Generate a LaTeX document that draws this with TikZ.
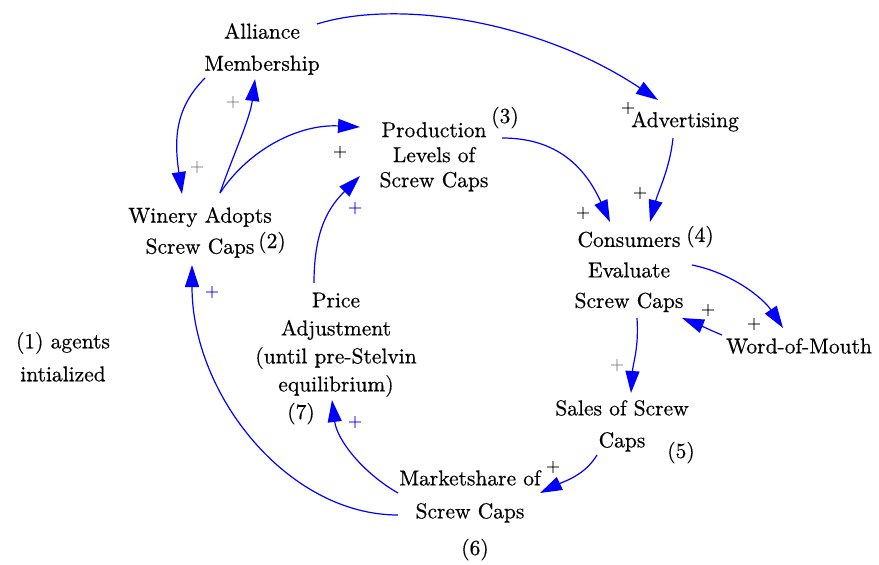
\documentclass[tikz,border=0pt]{standalone}
\usepackage{fontspec}
\setmainfont{lmroman10-regular.otf}[FakeBold=0.5]
\usetikzlibrary{arrows.meta,calc}
\definecolor{arrblue}{RGB}{0,0,255}
\definecolor{pgray}{RGB}{128,128,128}
\tikzset{
  txt/.style={inner sep=0pt, anchor=north, align=center, font=\rmfamily\fontsize{21.5}{#1}\selectfont},
  tag/.style={inner sep=0pt, anchor=base, font=\rmfamily\fontsize{21.5}{28}\selectfont},
  pl/.style={inner sep=0pt, font=\rmfamily\fontsize{18}{20}\selectfont},
  link/.style={draw=arrblue, line width=1.2pt, -{Triangle[length=22pt,width=14pt]}}
}
\begin{document}
\begin{tikzpicture}[x=1pt,y=-1pt]
\useasboundingbox (0,0) rectangle (879,565);
% nodes
\node[txt=32] (alli) at (262,23) {Alliance\\Membership};
\node[txt=25] (prod) at (434,122) {Production\\Levels of\\Screw Caps};
\node[txt=31] (win) at (200,207) {Winery Adopts\\Screw Caps};
\node[txt=30.5] (cons) at (629,231.5) {Consumers\\Evaluate\\Screw Caps};
\node[txt=28] (adv) at (685,111.5) {Advertising};
\node[txt=28] (wom) at (799,338) {Word-of-Mouth};
\node[txt=32] (sales) at (622,400) {Sales of Screw\\Caps};
\node[txt=33] (mkt) at (470,470) {Marketshare of\\Screw Caps};
\node[txt=28] (price) at (336,292.5) {Price\\Adjustment\\(until pre-Stelvin\\equilibrium)};
\node[txt=33] (init) at (63,332) {(1) agents\\intialized};
% step tags
\node[tag] (t2) at (272,248) {(2)};
\node[tag] (t3) at (505,123) {(3)};
\node[tag] (t4) at (700,242) {(4)};
\node[tag] (t5) at (681,458) {(5)};
\node[tag] (t6) at (475,555) {(6)};
\node[tag] (t7) at (301,419) {(7)};
% connectors
\draw[link] ($(alli.north)+(55,1)$) .. controls +(80,-25) and +(-120,-80) .. ($(adv.north)+(-27,-11.5)$);
\draw[link] ($(alli.north)+(-57,55)$) .. controls +(-30,30) and +(-8,-55) .. ($(win.north)+(-18,-13)$);
\draw[link] ($(win.north)+(20,-14)$) .. controls +(12,-35) and +(-5,40) .. ($(alli.north)+(-7,56)$);
\draw[link] ($(win.north)+(20,-14)$) .. controls +(30,-45) and +(-60,-3) .. ($(prod.north)+(-74,5)$);
\draw[link] ($(price.north)+(-22,-9.5)$) .. controls +(0,-55) and +(-30,30) .. ($(prod.north)+(-74,54)$);
\draw[link] ($(prod.north)+(68,16)$) .. controls +(55,0) and +(-25,-55) .. ($(cons.north)+(-19,-9.5)$);
\draw[link] ($(adv.north)+(-12,26.5)$) .. controls +(-3,30) and +(8,-30) .. ($(cons.north)+(21,-9.5)$);
\draw[link] ($(cons.north)+(63,33.5)$) .. controls +(40,8) and +(-20,-30) .. ($(wom.north)+(-16,-10)$);
\draw[link] ($(wom.north)+(-77,-3)$) .. controls +(-12,-5) and +(15,6) .. ($(cons.north)+(53,86.5)$);
\draw[link] ($(cons.north)+(8,86.5)$) .. controls +(2,30) and +(2,-30) .. ($(sales.north)+(9,-7)$);
\draw[link] ($(sales.north)+(-25,55)$) .. controls +(-12,20) and +(25,-12) .. ($(mkt.north)+(70,23)$);
\draw[link] ($(mkt.north)+(-72,23)$) .. controls +(-35,-20) and +(5,40) .. ($(price.north)+(-4,107.5)$);
\draw[link] ($(mkt.north)+(-72,45)$) .. controls +(-110,0) and +(0,130) .. ($(win.north)+(-8,58)$);
% polarity labels
\node[pl] (p1) at (628,108) {+};
\node[pl,text=pgray] (p2) at (197,167) {+};
\node[pl,text=pgray] (p3) at (233,102) {+};
\node[pl] (p4) at (340,152) {+};
\node[pl,text=arrblue] (p5) at (355,208) {+};
\node[pl] (p6) at (583,213) {+};
\node[pl] (p7) at (640,193) {+};
\node[pl] (p8) at (754,324) {+};
\node[pl] (p9) at (708,310) {+};
\node[pl,text=pgray] (p10) at (617,365) {+};
\node[pl] (p11) at (553,467) {+};
\node[pl,text=arrblue] (p12) at (355,422) {+};
\node[pl,text=arrblue] (p13) at (212,292) {+};
\end{tikzpicture}
\end{document}
